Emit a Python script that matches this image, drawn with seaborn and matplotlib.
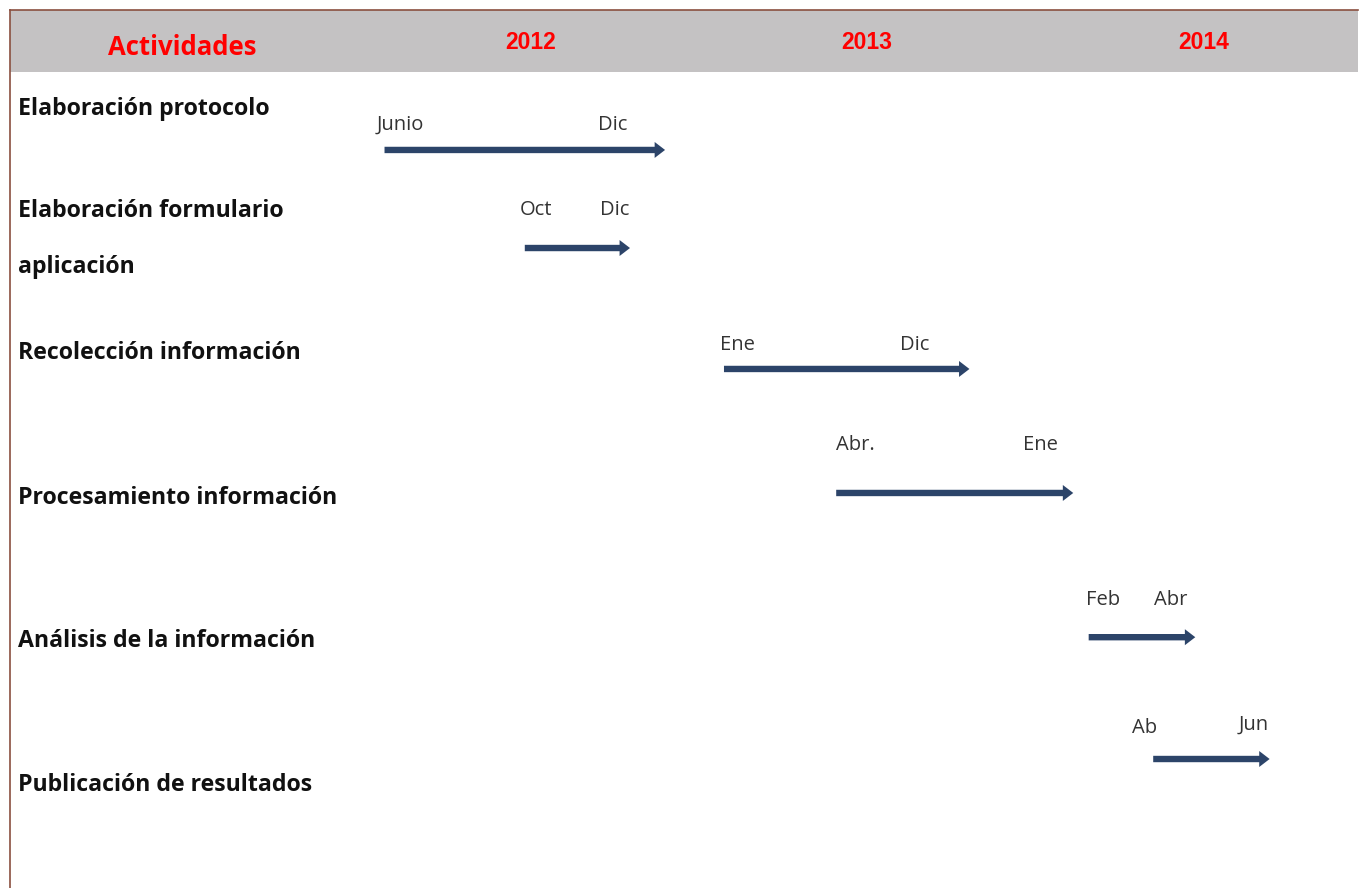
import pandas as pd
import seaborn as sns
import matplotlib.pyplot as plt

# activities (rows), top to bottom
activities = ["Elaboración protocolo", "Elaboración formulario\n\naplicación",
              "Recolección información", "Procesamiento información",
              "Análisis de la información", "Publicación de resultados"]
years = ["2012", "2013", "2014"]
# arrow extents on the timeline, in months counted from Jan 2012
start_month = [0.8, 5.8, 12.9, 16.9, 25.9, 28.2]
end_month = [10.8, 9.55, 21.65, 25.35, 29.7, 32.35]
start_label = ["Junio", "Oct", "Ene", "Abr.", "Feb", "Ab"]
end_label = ["Dic", "Dic", "Dic", "Ene", "Abr", "Jun"]

# layout (row units, 0 = first arrow)
arrow_row = [0, 0.805, 1.798, 2.816, 4.0, 5.0]
name_row = [-0.335, 0.731, 1.665, 2.855, 4.035, 5.215]
start_label_x = [1.36, 6.2, 13.37, 17.58, 26.43, 27.89]
end_label_x = [8.95, 8.99, 19.69, 24.18, 28.82, 31.78]
start_label_y = [-0.205, 0.493, 1.601, 2.422, 3.695, 4.746]
end_label_y = [-0.205, 0.493, 1.601, 2.422, 3.695, 4.721]

sns.set_theme(style="white")
plt.rcParams['font.family'] = ['Open Sans', 'DejaVu Sans']

navy = "#2c4469"
brown = "#8a4f3f"

df = pd.DataFrame({"actividad": activities, "inicio": start_month, "fin": end_month,
                   "fila": arrow_row})

fig = plt.figure(figsize=(13.6, 8.88), dpi=100)
ax = fig.add_axes([10 / 1360, 0, 1348 / 1360, 878 / 888])
ax.set_xlim(-12.55, 35.5)
ax.set_ylim(6.059, -1.149)

# header band
ax.axhspan(-1.149, -0.64, color="#c4c2c3", lw=0, zorder=0)
ax.text(0.128, -0.84, "Actividades", transform=ax.get_yaxis_transform(), ha="center",
        va="center", color="red", fontsize=18.5, fontweight="bold")
for i, y in enumerate(years):
    ax.text(6 + 12 * i, -0.885, y, ha="center", va="center", color="red",
            fontsize=16.5, fontweight="bold", family="Liberation Sans")

for i, r in df.iterrows():
    ax.annotate("", xy=(r["fin"], r["fila"]), xytext=(r["inicio"], r["fila"]),
                arrowprops=dict(arrowstyle="simple,head_length=7.5,head_width=11.5,tail_width=4.6",
                                mutation_scale=1, color=navy, lw=0, shrinkA=0, shrinkB=0))
    if i < 2:
        ax.plot([r["inicio"] + 0.08, r["fin"] - 0.45], [r["fila"], r["fila"]],
                color="#4f73a3", lw=1.3, solid_capstyle="butt")
    ax.text(0.006, name_row[i], r["actividad"], transform=ax.get_yaxis_transform(),
            ha="left", va="center", fontsize=16.7, fontweight="bold", color="#111111",
            linespacing=1.23)
    ax.text(start_label_x[i], start_label_y[i], start_label[i], ha="center", va="center",
            fontsize=14.5, color="#333333")
    ax.text(end_label_x[i], end_label_y[i], end_label[i], ha="center", va="center",
            fontsize=14.5, color="#333333")

ax.set_xticks([])
ax.set_yticks([])
sns.despine(ax=ax, right=True, bottom=True, top=False, left=False)
for s in ["top", "left"]:
    ax.spines[s].set_color(brown)
    ax.spines[s].set_linewidth(1.2)

fig.savefig("out.png", dpi=100)
